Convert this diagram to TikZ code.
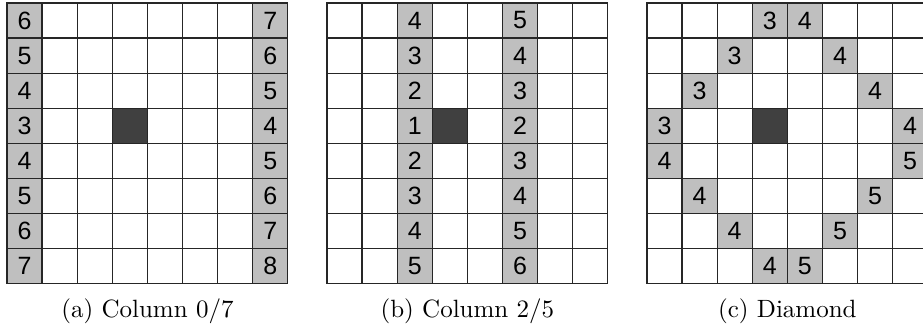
\documentclass[tikz,border=0pt]{standalone}
\usepackage{fontspec}
\newfontfamily\cellfont{Liberation Sans}
\usepackage{tikz}
\usetikzlibrary{positioning}

\begin{document}
\begin{tikzpicture}[
    x=14.04pt, y=14.04pt,
    cell/.style={
      rectangle, draw=black!85, line width=0.5pt,
      minimum size=14.04pt, inner sep=0pt,
      font=\cellfont
    },
    hit/.style={cell, fill=gray!50},
    src/.style={cell, fill=black!75},
    caption/.style={font=\normalsize},
  ]

  \useasboundingbox (-0.2,-1.225) rectangle (26.1,8.085);

  %% ── (a) Column 0/7 ─────────────────────────────────────────
  \foreach \r in {0,...,7}
    \foreach \c in {0,...,7}
      \node[cell] (a-\c-\r) at (\c+0.5,7.5-\r) {};
  \foreach \r/\u/\v in {0/6/7,1/5/6,2/4/5,3/3/4,4/4/5,5/5/6,6/6/7,7/7/8} {
    \node[hit] (a-0-\r) at (0.5,7.5-\r) {\u};
    \node[hit] (a-7-\r) at (7.5,7.5-\r) {\v};
  }
  \node[src] (a-3-3) at (3.5,4.5) {};
  \node[caption] (capa) at (4,-0.77) {(a) Column 0/7};

  %% ── (b) Column 2/5 ─────────────────────────────────────────
  \begin{scope}[shift={(9.117,0)}]
    \foreach \r in {0,...,7}
      \foreach \c in {0,...,7}
        \node[cell] (b-\c-\r) at (\c+0.5,7.5-\r) {};
    \foreach \r/\u/\v in {0/4/5,1/3/4,2/2/3,3/1/2,4/2/3,5/3/4,6/4/5,7/5/6} {
      \node[hit] (b-2-\r) at (2.5,7.5-\r) {\u};
      \node[hit] (b-5-\r) at (5.5,7.5-\r) {\v};
    }
    \node[src] (b-3-3) at (3.5,4.5) {};
    \node[caption] (capb) at (4,-0.77) {(b) Column 2/5};
  \end{scope}

  %% ── (c) Diamond ────────────────────────────────────────────
  \begin{scope}[shift={(18.234,0)}]
    \foreach \r in {0,...,7}
      \foreach \c in {0,...,7}
        \node[cell] (c-\c-\r) at (\c+0.5,7.5-\r) {};
    \foreach \r/\c/\u/\d/\v in {0/3/3/4/4,1/2/3/5/4,2/1/3/6/4,3/0/3/7/4,
                                4/0/4/7/5,5/1/4/6/5,6/2/4/5/5,7/3/4/4/5} {
      \node[hit] (c-\c-\r) at (\c+0.5,7.5-\r) {\u};
      \node[hit] (c-\d-\r) at (\d+0.5,7.5-\r) {\v};
    }
    \node[src] (c-3-3) at (3.5,4.5) {};
    \node[caption] (capc) at (4,-0.77) {(c) Diamond};
  \end{scope}

\end{tikzpicture}
\end{document}
